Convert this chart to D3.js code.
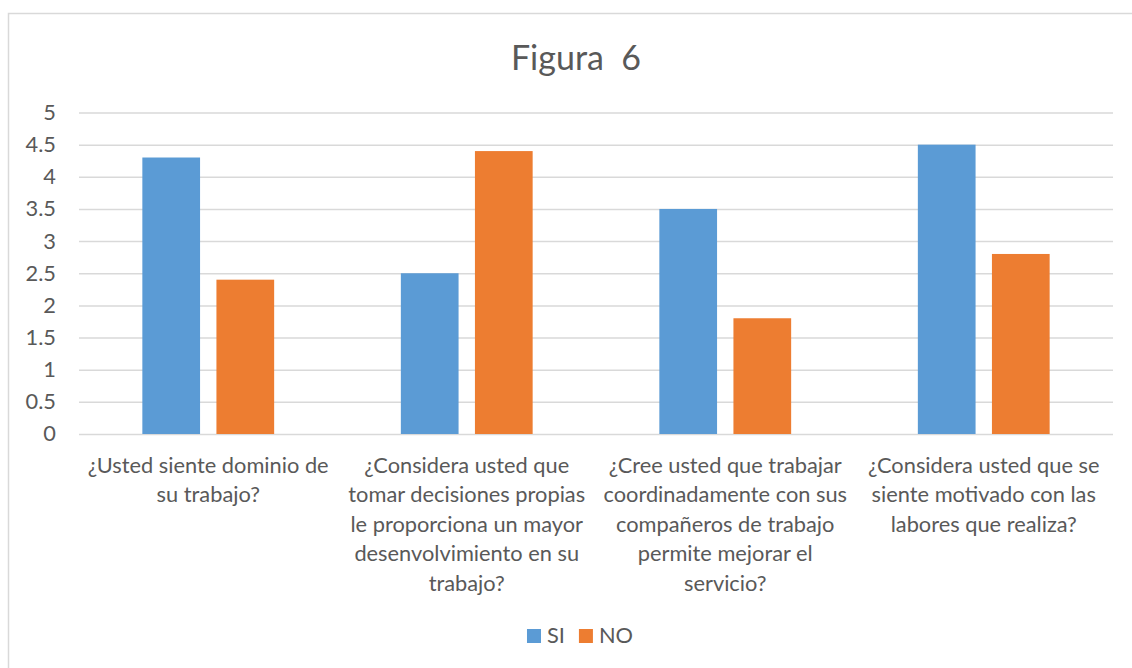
<!DOCTYPE html>
<html>
<head>
<meta charset="utf-8">
<script src="https://cdn.jsdelivr.net/npm/d3@7"></script>
<style>
  html, body { margin: 0; padding: 0; background: #fff; }
  svg { display: block; }
  text { font-family: Lato, "Open Sans", sans-serif; fill: #595959; }
</style>
</head>
<body>
<svg id="chart" width="1132" height="668"></svg>
<script>
// ---- data ----
const titleText = "Figura  6";
const categories = [
  "¿Usted siente dominio de\nsu trabajo?",
  "¿Considera usted que\ntomar decisiones propias\nle proporciona un mayor\ndesenvolvimiento en su\ntrabajo?",
  "¿Cree usted que trabajar\ncoordinadamente con sus\ncompañeros de trabajo\npermite mejorar el\nservicio?",
  "¿Considera usted que se\nsiente motivado con las\nlabores que realiza?"
];
const seriesNames = ["SI", "NO"];
const siValues = [4.3, 2.5, 3.5, 4.5];
const noValues = [2.4, 4.4, 1.8, 2.8];
const yTickValues = [0, 0.5, 1, 1.5, 2, 2.5, 3, 3.5, 4, 4.5, 5];
const seriesColors = ["#5B9BD5", "#ED7D31"];

// ---- layout ----
const svg = d3.select("#chart");
const plotLeft = 79, plotRight = 1113, plotTop = 112.5, plotBottom = 434;
const labelSize = 21.8;

// frame
svg.append("rect")
  .attr("x", 8.5).attr("y", 13.5)
  .attr("width", 1200).attr("height", 800)
  .attr("fill", "#fff").attr("stroke", "#D9D9D9").attr("stroke-width", 1.5);

const x0 = d3.scaleBand().domain(d3.range(categories.length)).range([plotLeft, plotRight]).padding(0);
const x1 = d3.scaleBand().domain(seriesNames).range([0, x0.bandwidth()]).paddingInner(0.221).paddingOuter(0.855);
const y = d3.scaleLinear().domain([0, 5]).range([plotBottom, plotTop]);
const color = d3.scaleOrdinal().domain(seriesNames).range(seriesColors);

const values = { SI: siValues, NO: noValues };

// gridlines + y axis
const yAxis = d3.axisLeft(y)
  .tickValues(yTickValues)
  .tickFormat(d3.format("~g"))
  .tickSize(-(plotRight - plotLeft))
  .tickPadding(23);

const gy = svg.append("g").attr("transform", `translate(${plotLeft},0)`).call(yAxis);
gy.select(".domain").remove();
gy.selectAll(".tick line").attr("stroke", "#D9D9D9").attr("stroke-width", 1.5);
gy.selectAll(".tick text")
  .attr("font-family", "Lato, sans-serif")
  .attr("font-size", labelSize)
  .attr("fill", "#595959");

// bars
const groups = svg.append("g").selectAll("g")
  .data(categories.map((c, i) => i))
  .join("g")
  .attr("transform", i => `translate(${x0(i)},0)`);

groups.selectAll("rect")
  .data(i => seriesNames.map(s => ({ s, v: values[s][i] })))
  .join("rect")
  .attr("x", d => x1(d.s))
  .attr("width", x1.bandwidth())
  .attr("y", d => y(d.v))
  .attr("height", d => y(0) - y(d.v))
  .attr("fill", d => color(d.s));

// x category labels
const xl = svg.append("g");
categories.forEach((c, i) => {
  const cx = x0(i) + x0.bandwidth() / 2;
  const t = xl.append("text")
    .attr("text-anchor", "middle")
    .attr("font-size", labelSize)
    .attr("x", cx)
    .attr("y", 473);
  c.split("\n").forEach((line, k) => {
    t.append("tspan")
      .attr("x", cx)
      .attr("dy", k === 0 ? 0 : 29.4)
      .text(line);
  });
});

// title
svg.append("text")
  .attr("x", 576).attr("y", 70)
  .attr("text-anchor", "middle")
  .attr("font-size", 34)
  .style("white-space", "pre")
  .attr("xml:space", "preserve")
  .text(titleText);

// legend
const legend = svg.append("g");
let lx = 0;
seriesNames.forEach((s, i) => {
  const g = legend.append("g").attr("transform", `translate(${lx},0)`);
  g.append("rect").attr("x", 0).attr("y", 629).attr("width", 14).attr("height", 14).attr("fill", color(s));
  const t = g.append("text").attr("x", 20).attr("y", 643).attr("font-size", labelSize).text(s);
  lx += 20 + t.node().getComputedTextLength() + 14;
});
const legendWidth = lx - 14;
legend.attr("transform", `translate(${580 - legendWidth / 2},0)`);
</script>
</body>
</html>
